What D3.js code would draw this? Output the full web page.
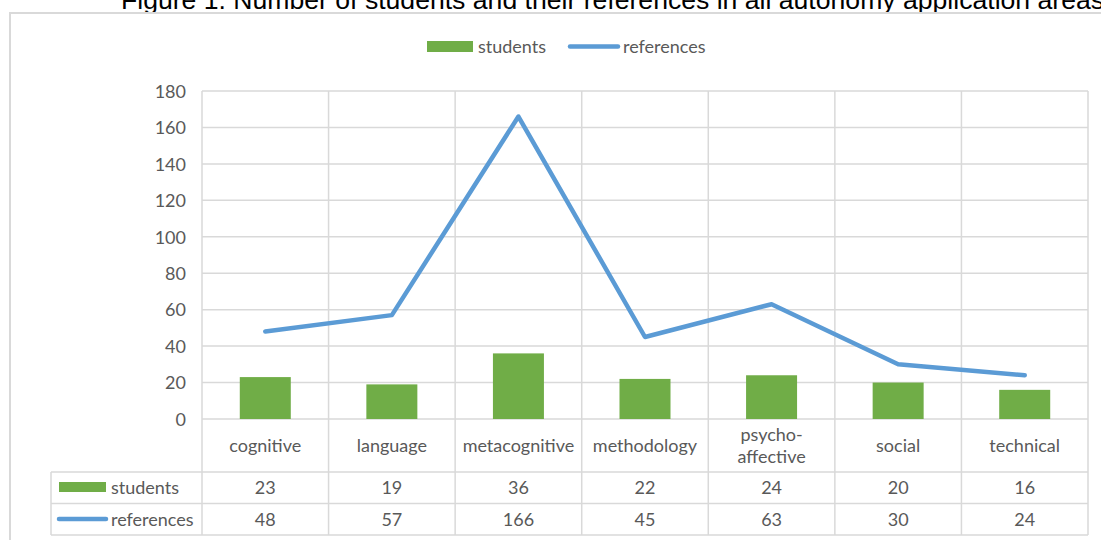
<!DOCTYPE html>
<html><head><meta charset="utf-8">
<script src="https://cdn.jsdelivr.net/npm/d3@7"></script>
<style>body{margin:0;background:#fff;overflow:hidden}svg{display:block}</style>
</head><body>
<svg id="c" width="1101" height="540"></svg>
<script>
const categories = ["cognitive","language","metacognitive","methodology","psycho-\naffective","social","technical"];
const students = [23,19,36,22,24,20,16];
const references = [48,57,166,45,63,30,24];
const yTicks = [0,20,40,60,80,100,120,140,160,180];
const seriesNames = ["students","references"];
const title = "Figure 1. Number of students and their references in all autonomy application areas";

const svg = d3.select("#c");
const green = "#70AD47", blue = "#5B9BD5", grid = "#d9d9d9", txt = "#595959";
const FONT = "Lato, Open Sans", FS = 18;
const L = 202, R = 1088, T = 91, B = 419;
const tabLeft = 51, row1 = 472, row2 = 503.5, row3 = 535;

// title (cut off at top/right as in the reference)
svg.append("text").attr("x", 121).attr("y", 9).attr("font-family","Liberation Sans, Arial").attr("font-size", 26.6).attr("fill","#000").text(title);

// frame
svg.append("rect").attr("x",10).attr("y",13).attr("width",1200).attr("height",600).attr("fill","none").attr("stroke",grid).attr("stroke-width",2);

const x = d3.scaleBand().domain(d3.range(categories.length)).range([L,R]).paddingInner(0).paddingOuter(0);
const y = d3.scaleLinear().domain([0,180]).range([B,T]);

// horizontal gridlines
svg.append("g").selectAll("line").data(yTicks).join("line")
  .attr("x1",L).attr("x2",R).attr("y1",d=>y(d)).attr("y2",d=>y(d)).attr("stroke",grid).attr("stroke-width",1.5);
// y axis labels
const yAxis = d3.axisLeft(y).tickValues(yTicks).tickSize(0).tickPadding(0);
const ya = svg.append("g").attr("transform",`translate(${L-16},0)`).call(yAxis);
ya.select(".domain").remove();
ya.selectAll("text").attr("font-family",FONT).attr("font-size",FS).attr("fill",txt).attr("dy","0.35em");

// vertical lines
const vx = d3.range(categories.length+1).map(i => i<categories.length ? x(i) : R);
svg.append("g").selectAll("line").data(vx).join("line")
  .attr("x1",d=>d).attr("x2",d=>d).attr("y1",T).attr("y2",row3).attr("stroke",grid).attr("stroke-width",1.5);
// table horizontal lines
[row1,row2,row3].forEach(yy=>svg.append("line").attr("x1",tabLeft).attr("x2",R).attr("y1",yy).attr("y2",yy).attr("stroke",grid).attr("stroke-width",1.5));
svg.append("line").attr("x1",tabLeft).attr("x2",tabLeft).attr("y1",row1).attr("y2",row3).attr("stroke",grid).attr("stroke-width",1.5);

// bars
const bw = 51;
svg.append("g").selectAll("rect").data(students).join("rect")
  .attr("x",(d,i)=>x(i)+x.bandwidth()/2-bw/2).attr("width",bw)
  .attr("y",d=>y(d)).attr("height",d=>y(0)-y(d)).attr("fill",green);

// line
const line = d3.line().x((d,i)=>x(i)+x.bandwidth()/2).y(d=>y(d));
svg.append("path").datum(references).attr("d",line).attr("fill","none").attr("stroke",blue).attr("stroke-width",4.5).attr("stroke-linejoin","round").attr("stroke-linecap","round");

// category labels
categories.forEach((c,i)=>{
  const lines = c.split("\n");
  const cx = x(i)+x.bandwidth()/2;
  const t = svg.append("text").attr("x",cx).attr("text-anchor","middle").attr("font-family",FONT).attr("font-size",FS).attr("fill",txt);
  lines.forEach((ln,j)=>{
    t.append("tspan").attr("x",cx).attr("y",446 + (j - (lines.length-1)/2)*22).attr("dy","0.35em").text(ln);
  });
});

// table values
[students, references].forEach((arr,r)=>{
  const cy = r===0 ? (row1+row2)/2 : (row2+row3)/2;
  svg.append("g").selectAll("text").data(arr).join("text")
    .attr("x",(d,i)=>x(i)+x.bandwidth()/2).attr("y",cy).attr("dy","0.35em").attr("text-anchor","middle")
    .attr("font-family",FONT).attr("font-size",FS).attr("fill",txt).text(d=>d);
});

// table legend
svg.append("rect").attr("x",59).attr("y",482).attr("width",47).attr("height",10).attr("fill",green);
svg.append("text").attr("x",111).attr("y",(row1+row2)/2).attr("dy","0.35em").attr("font-family",FONT).attr("font-size",FS).attr("fill",txt).text(seriesNames[0]);
svg.append("line").attr("x1",59).attr("x2",106).attr("y1",519).attr("y2",519).attr("stroke",blue).attr("stroke-width",4.5).attr("stroke-linecap","round");
svg.append("text").attr("x",111).attr("y",(row2+row3)/2).attr("dy","0.35em").attr("font-family",FONT).attr("font-size",FS).attr("fill",txt).text(seriesNames[1]);

// top legend
svg.append("rect").attr("x",427).attr("y",41).attr("width",46).attr("height",11).attr("fill",green);
svg.append("text").attr("x",478).attr("y",46.5).attr("dy","0.35em").attr("font-family",FONT).attr("font-size",FS).attr("fill",txt).text(seriesNames[0]);
svg.append("line").attr("x1",570).attr("x2",618).attr("y1",46.5).attr("y2",46.5).attr("stroke",blue).attr("stroke-width",4.5).attr("stroke-linecap","round");
svg.append("text").attr("x",623).attr("y",46.5).attr("dy","0.35em").attr("font-family",FONT).attr("font-size",FS).attr("fill",txt).text(seriesNames[1]);
</script>
</body></html>
